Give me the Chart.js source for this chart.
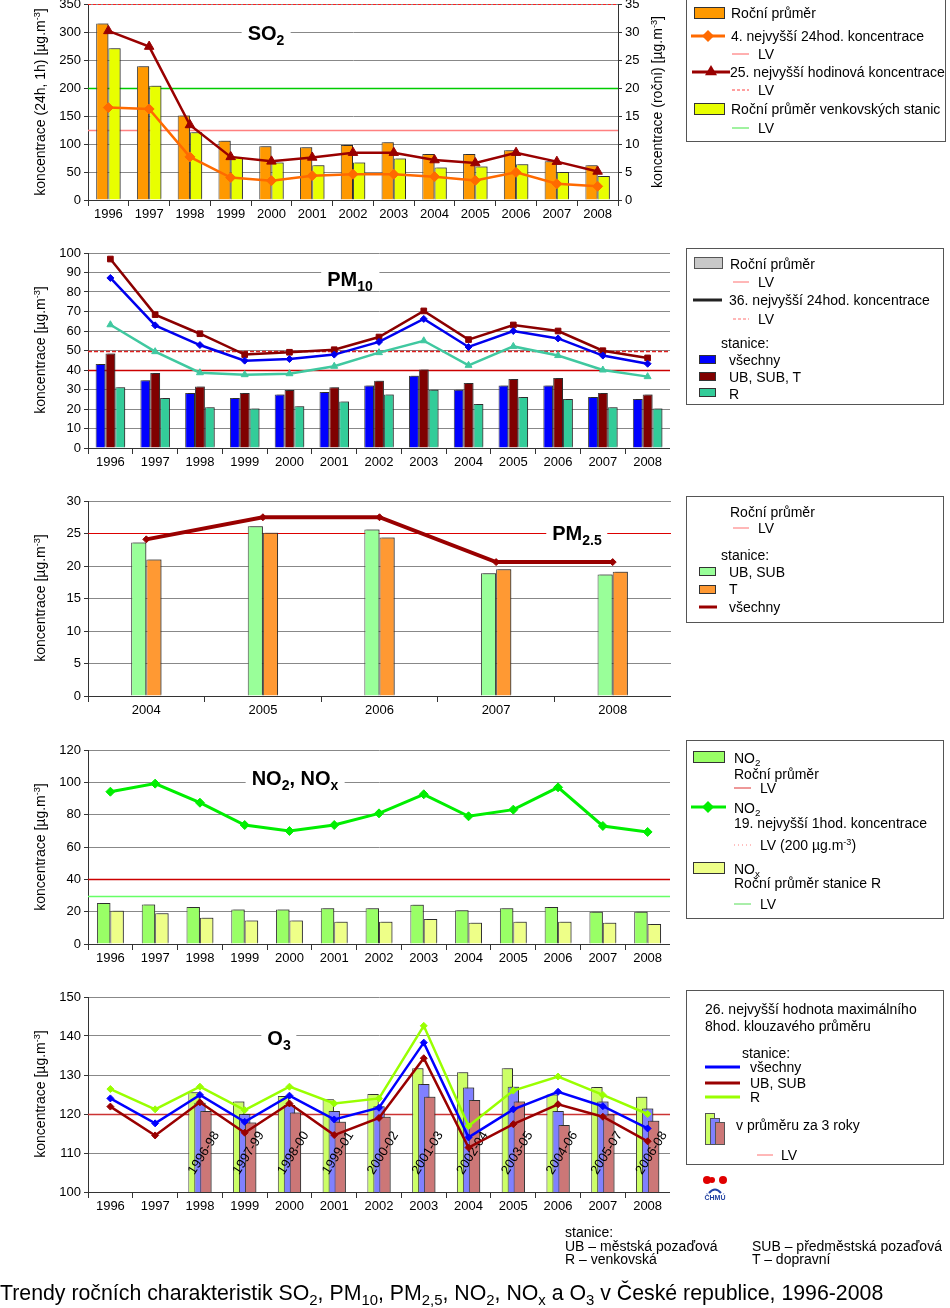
<!DOCTYPE html>
<html>
<head>
<meta charset="utf-8">
<title>Trendy ročních charakteristik</title>
<script src="https://cdn.jsdelivr.net/npm/chart.js@4.4.1/dist/chart.umd.min.js"></script>
<style>
  body { margin: 0; width: 950px; height: 1308px; position: relative; overflow: hidden; background: #fff;
         font-family: "Liberation Sans", Arial, sans-serif; color: #000; }
  canvas { position: absolute; left: 0; }
  .box { position: absolute; border: 1px solid #555; box-sizing: border-box; }
  .t { position: absolute; font-size: 14px; line-height: 16px; white-space: nowrap; transform: translateY(-50%); }
  .ttl { position: absolute; font-size: 20px; font-weight: bold; line-height: 24px; background: #fff; padding: 0 6px;
         white-space: nowrap; transform: translate(-50%, -50%); }
  .rot { position: absolute; font-size: 14px; line-height: 16px; white-space: nowrap; transform: translate(-50%, -50%) rotate(-90deg); }
  sub { font-size: 70%; vertical-align: -0.35em; line-height: 0; }
  sup { font-size: 65%; vertical-align: 0.5em; line-height: 0; }
  #gfx { position: absolute; left: 0; top: 0; }
</style>
</head>
<body>
<canvas id="so2" width="680" height="234" style="top:-10px"></canvas>
<canvas id="pm10" width="670" height="233" style="top:239px"></canvas>
<canvas id="pm25" width="671" height="233" style="top:487px"></canvas>
<canvas id="no2" width="670" height="232" style="top:736px"></canvas>
<canvas id="o3" width="670" height="233" style="top:983px"></canvas>
<svg id="gfx" width="950" height="1308"></svg>
<script>
// ---- data -------------------------------------------------------------
const years = ['1996', '1997', '1998', '1999', '2000', '2001', '2002', '2003', '2004', '2005', '2006', '2007', '2008'];
const pm25Years = ['2004', '2005', '2006', '2007', '2008'];
const o3Periods = ['', '', '1996-98', '1997-99', '1998-00', '1999-01', '2000-02', '2001-03', '2002-04', '2003-05', '2004-06', '2005-07', '2006-08'];

// SO2 (bars on right axis, lines on left axis)
const so2Annual = [31.5, 23.9, 15.1, 10.6, 9.6, 9.4, 9.8, 10.3, 8.2, 8.2, 8.9, 6.9, 6.2];
const so2RuralAnnual = [27.1, 20.4, 12.1, 7.7, 6.7, 6.2, 6.7, 7.4, 5.8, 6.0, 6.4, 5.0, 4.3];
const so2Daily4th = [165, 162.5, 77, 40, 34.5, 43.5, 46, 46, 41.7, 35, 49.4, 29, 24.4];
const so2Hourly25th = [302, 274, 134, 77, 69, 76, 84.5, 84.5, 71.4, 66, 84.5, 68.5, 51];
const so2LvHourly = 350, so2LvDaily = 125, so2LvRural = 20;

// PM10
const pm10AllAnnual = [43.1, 34.7, 28.2, 25.6, 27.5, 28.7, 32.1, 37.1, 29.9, 32.1, 32.1, 26.2, 25.1];
const pm10UrbanAnnual = [48.5, 38.5, 31.6, 28.2, 29.7, 31.1, 34.5, 40.3, 33.3, 35.4, 35.9, 28.2, 27.4];
const pm10RuralAnnual = [31.1, 25.6, 20.9, 20.2, 21.4, 23.9, 27.5, 29.9, 22.6, 26.2, 25.1, 20.9, 20.2];
const pm10All36th = [87.2, 62.9, 52.8, 44.8, 45.6, 47.9, 54.4, 66.2, 51.8, 60.0, 56.2, 47.4, 43.2];
const pm10Urban36th = [96.9, 68.4, 58.6, 47.9, 49.1, 50.4, 56.9, 70.3, 55.6, 63.1, 60.0, 49.9, 46.2];
const pm10Rural36th = [63.2, 49.4, 38.6, 37.6, 38.1, 41.9, 48.9, 55.0, 42.4, 52.1, 47.4, 40.0, 36.6];
const pm10LvDaily = 50, pm10LvAnnual = 40;

// PM2.5
const pm25UrbanAnnual = [23.6, 26.1, 25.6, 18.9, 18.7];
const pm25TrafficAnnual = [21.0, 25.1, 24.4, 19.5, 19.1];
const pm25AllAnnual = [24.1, 27.5, 27.5, 20.6, 20.6];
const pm25Lv = 25;

// NO2, NOx
const no2Annual = [25.4, 24.5, 22.9, 21.4, 21.4, 22.1, 22.1, 24.3, 20.8, 22.1, 22.9, 20.0, 20.0];
const noxRuralAnnual = [20.6, 19.0, 16.3, 14.6, 14.6, 13.8, 13.8, 15.5, 13.2, 13.8, 13.8, 13.2, 12.4];
const no2Hourly19th = [94.2, 99.2, 87.4, 73.6, 69.9, 73.6, 80.8, 92.6, 79.0, 83.1, 96.9, 73.0, 69.3];
const no2LvAnnual = 40, noxLvRural = 30;

// O3
const o3RuralMax = [126.4, 121.2, 127.0, 121.0, 127.0, 122.7, 124.0, 142.6, 116.9, 126.0, 129.6, 124.9, 120.0];
const o3AllMax = [124.0, 117.6, 124.9, 118.0, 124.7, 118.6, 121.6, 138.3, 114.0, 121.2, 125.7, 122.0, 116.3];
const o3UrbanMax = [121.9, 114.5, 123.0, 115.2, 122.7, 114.6, 119.0, 134.3, 111.4, 117.4, 122.5, 119.3, 113.0];
const o3Rural3y = [null, null, 125.6, 123.2, 124.6, 123.8, 125.1, 131.7, 130.7, 131.7, 125.0, 126.9, 124.4];
const o3All3y = [null, null, 122.9, 120.0, 122.3, 120.8, 122.0, 127.7, 126.8, 127.0, 120.8, 123.2, 121.4];
const o3Urban3y = [null, null, 120.8, 117.8, 120.4, 118.0, 119.3, 124.4, 123.6, 123.2, 117.2, 119.9, 118.3];
const o3Lv = 120;

// ---- chart helpers ----------------------------------------------------
const FONT = { family: '"Liberation Sans", Arial, sans-serif', size: 13 };

// draws limit lines, then datasets in array order (later ones on top), then O3 period labels
const layers = {
  id: 'layers',
  beforeDatasetsDraw(chart, args, opts) {
    const { ctx, chartArea: a } = chart;
    (opts.limits || []).forEach(l => {
      const y = Math.round(chart.scales[l.axis].getPixelForValue(l.value)) + 0.5;
      ctx.save();
      ctx.strokeStyle = l.color;
      ctx.lineWidth = l.width || 1;
      ctx.setLineDash(l.dash || []);
      ctx.beginPath();
      ctx.moveTo(a.left, y);
      ctx.lineTo(a.right, y);
      ctx.stroke();
      ctx.restore();
    });
    const metas = chart.data.datasets.map((d, i) => chart.getDatasetMeta(i));
    metas.filter(m => m.type === 'bar').forEach(m => {
      ctx.save();
      ctx.beginPath();
      ctx.rect(a.left, a.top - 4, a.right - a.left + 4, a.bottom - a.top + 4);
      ctx.clip();
      ctx.shadowColor = 'rgba(0,0,0,0.35)';
      ctx.shadowOffsetX = 2;
      ctx.shadowOffsetY = -1;
      m.controller.draw();
      ctx.restore();
    });
    if (opts.barLabels) {
      const xs = chart.scales.x, ys = chart.scales.y;
      ctx.save();
      ctx.fillStyle = '#000';
      ctx.font = '13px "Liberation Sans", Arial, sans-serif';
      ctx.textAlign = 'center';
      ctx.textBaseline = 'middle';
      opts.barLabels.forEach((txt, i) => {
        if (!txt) return;
        ctx.save();
        ctx.translate(xs.getPixelForValue(i) + 4, ys.getPixelForValue(opts.labelValue));
        ctx.rotate(-58 * Math.PI / 180);
        ctx.fillText(txt, 0, 0);
        ctx.restore();
      });
      ctx.restore();
    }
    metas.filter(m => m.type === 'line').forEach(m => m.controller.draw());
    return false;
  }
};

function xAxis() {
  return {
    type: 'category', offset: true,
    grid: { offset: true, drawOnChartArea: false, drawTicks: true, tickLength: 6, color: '#333' },
    border: { color: '#333' },
    ticks: { color: '#000', font: FONT, padding: 1, maxRotation: 0, autoSkip: false },
    afterFit: s => { s.height = 24; }
  };
}

function yAxis(min, max, step) {
  return {
    position: 'left', min, max,
    ticks: { stepSize: step, color: '#000', font: FONT, padding: 3 },
    grid: { color: '#888', tickColor: '#333', tickLength: 4 },
    border: { color: '#333' },
    afterFit: s => { s.width = 88; }
  };
}

function bar(data, color, catPct, barPct, axis) {
  return { type: 'bar', data, yAxisID: axis || 'y', backgroundColor: color, borderColor: '#444', borderWidth: 1,
           categoryPercentage: catPct, barPercentage: barPct };
}

function line(data, color, width, style, radius, axis) {
  return { type: 'line', data, yAxisID: axis || 'y', borderColor: color, backgroundColor: color, borderWidth: width,
           pointStyle: style, pointRadius: radius, pointBorderWidth: 1, tension: 0 };
}

function options(scales, layerOpts, right) {
  return {
    responsive: false, animation: false,
    layout: { autoPadding: false, padding: { top: 14, right: right || 0, bottom: 0, left: 0 } },
    plugins: { legend: { display: false }, tooltip: { enabled: false }, layers: layerOpts },
    scales
  };
}

// ---- SO2 ---------------------------------------------------------------
new Chart(document.getElementById('so2'), {
  data: {
    labels: years,
    datasets: [
      bar(so2Annual, '#ff9900', 0.6, 1, 'y2'),
      bar(so2RuralAnnual, '#e8ff00', 0.6, 1, 'y2'),
      line(so2Daily4th, '#ff6a00', 2.5, 'rectRot', 5),
      line(so2Hourly25th, '#990000', 2.5, 'triangle', 5.5)
    ]
  },
  options: options({
    x: xAxis(),
    y: yAxis(0, 350, 50),
    y2: {
      position: 'right', min: 0, max: 35,
      ticks: { stepSize: 5, color: '#000', font: FONT, padding: 3 },
      grid: { drawOnChartArea: false, color: '#333', tickLength: 4 },
      border: { color: '#333' },
      afterFit: s => { s.width = 62; }
    }
  }, {
    limits: [
      { axis: 'y', value: so2LvHourly, color: '#ff2020', dash: [3, 2] },
      { axis: 'y', value: so2LvDaily, color: '#ff8080', width: 1.5 },
      { axis: 'y2', value: so2LvRural, color: '#00cc00', width: 1.5 }
    ]
  }),
  plugins: [layers]
});

// ---- PM10 --------------------------------------------------------------
new Chart(document.getElementById('pm10'), {
  data: {
    labels: years,
    datasets: [
      bar(pm10AllAnnual, '#0000ff', 0.66, 1),
      bar(pm10UrbanAnnual, '#800000', 0.66, 1),
      bar(pm10RuralAnnual, '#33cc99', 0.66, 1),
      line(pm10Rural36th, '#40c8a0', 2.5, 'triangle', 4),
      line(pm10Urban36th, '#8b0000', 2.5, 'rect', 4),
      line(pm10All36th, '#0000ee', 2.5, 'rectRot', 3.5)
    ]
  },
  options: options({ x: xAxis(), y: yAxis(0, 100, 10) }, {
    limits: [
      { axis: 'y', value: pm10LvDaily, color: '#dd2020', dash: [4, 2], width: 1.5 },
      { axis: 'y', value: pm10LvAnnual, color: '#cc0000', width: 1.5 }
    ]
  }),
  plugins: [layers]
});

// ---- PM2.5 -------------------------------------------------------------
new Chart(document.getElementById('pm25'), {
  data: {
    labels: pm25Years,
    datasets: [
      bar(pm25UrbanAnnual, '#99ff99', 0.26, 1),
      bar(pm25TrafficAnnual, '#ff9933', 0.26, 1),
      line(pm25AllAnnual, '#990000', 4, 'rectRot', 3.5)
    ]
  },
  options: options({ x: xAxis(), y: yAxis(0, 30, 5) }, {
    limits: [{ axis: 'y', value: pm25Lv, color: '#dd0000', width: 1 }]
  }),
  plugins: [layers]
});

// ---- NO2, NOx ----------------------------------------------------------
new Chart(document.getElementById('no2'), {
  data: {
    labels: years,
    datasets: [
      bar(no2Annual, '#99ff66', 0.6, 1),
      bar(noxRuralAnnual, '#eeff88', 0.6, 1),
      line(no2Hourly19th, '#00ee00', 3, 'rectRot', 4.5)
    ]
  },
  options: options({ x: xAxis(), y: yAxis(0, 120, 20) }, {
    limits: [
      { axis: 'y', value: no2LvAnnual, color: '#cc0000', width: 1.5 },
      { axis: 'y', value: noxLvRural, color: '#66ff66', width: 1.5 }
    ]
  }),
  plugins: [layers]
});

// ---- O3 ----------------------------------------------------------------
new Chart(document.getElementById('o3'), {
  data: {
    labels: years,
    datasets: [
      bar(o3Rural3y, '#ccff66', 0.4, 1.9),
      bar(o3All3y, '#8080ff', 0.4, 1.9),
      bar(o3Urban3y, '#cc7777', 0.4, 1.9),
      line(o3RuralMax, '#99ff00', 2.5, 'rectRot', 3.5),
      line(o3AllMax, '#0000ff', 2.5, 'rectRot', 3.5),
      line(o3UrbanMax, '#990000', 2.5, 'rectRot', 3.5)
    ]
  },
  options: options({ x: xAxis(), y: yAxis(100, 150, 10) }, {
    limits: [{ axis: 'y', value: o3Lv, color: '#cc3333', width: 1.5 }],
    barLabels: o3Periods,
    labelValue: 110
  }),
  plugins: [layers]
});

// ---- texts, legends ----------------------------------------------------
function put(cls, x, y, html, style) {
  const d = document.createElement('div');
  d.className = cls;
  d.style.left = x + 'px';
  d.style.top = y + 'px';
  if (style) d.style.cssText += style;
  d.innerHTML = html;
  document.body.appendChild(d);
}
const t = (x, y, html, style) => put('t', x, y, html, style);
function legendBox(x, y, w, h) {
  const d = document.createElement('div');
  d.className = 'box';
  Object.assign(d.style, { left: x + 'px', top: y + 'px', width: w + 'px', height: h + 'px' });
  document.body.appendChild(d);
}

const svg = [];
const rect = (x, y, w, h, fill, stroke) =>
  svg.push(`<rect x="${x + 0.5}" y="${y + 0.5}" width="${w}" height="${h}" fill="${fill}" stroke="${stroke || '#333'}"/>`);
const seg = (x1, x2, y, color, w, dash) =>
  svg.push(`<line x1="${x1}" y1="${y}" x2="${x2}" y2="${y}" stroke="${color}" stroke-width="${w || 1}"${dash ? ` stroke-dasharray="${dash}"` : ''}/>`);
const diamond = (cx, cy, r, color) =>
  svg.push(`<polygon points="${cx},${cy - r} ${cx + r},${cy} ${cx},${cy + r} ${cx - r},${cy}" fill="${color}"/>`);
const tri = (cx, cy, r, color) =>
  svg.push(`<polygon points="${cx},${cy - r} ${cx + r},${cy + r * 0.7} ${cx - r},${cy + r * 0.7}" fill="${color}"/>`);
const dot = (cx, cy, r, color) => svg.push(`<circle cx="${cx}" cy="${cy}" r="${r}" fill="${color}"/>`);

// panel titles
put('ttl', 266, 32.5, 'SO<sub>2</sub>');
put('ttl', 350, 279, 'PM<sub>10</sub>');
put('ttl', 577, 533, 'PM<sub>2.5</sub>');
put('ttl', 295, 778, 'NO<sub>2</sub>, NO<sub>x</sub>');
put('ttl', 279, 1038, 'O<sub>3</sub>');

// axis titles
const unit = '[µg.m<sup>-3</sup>]';
put('rot', 40, 102, 'koncentrace (24h, 1h) ' + unit);
put('rot', 657, 102, 'koncentrace (roční) ' + unit);
put('rot', 40, 350, 'koncentrace ' + unit);
put('rot', 40, 598, 'koncentrace ' + unit);
put('rot', 40, 847, 'koncentrace ' + unit);
put('rot', 40, 1094, 'koncentrace ' + unit);

// legend SO2
legendBox(686, -1, 260, 143);
rect(694, 7, 30, 11, '#ff9900');
seg(691, 725, 36, '#ff6a00', 3); diamond(708, 36, 6, '#ff6a00');
seg(732, 749, 54, '#ff6060');
seg(692, 730, 72, '#990000', 3); tri(711, 71, 6, '#990000');
seg(732, 749, 90, '#ff4040', 1, '3,2');
rect(694, 103, 30, 11, '#e8ff00');
seg(732, 749, 128, '#80ee80', 1.5);
t(731, 13, 'Roční průměr');
t(731, 36, '4. nejvyšší 24hod. koncentrace');
t(758, 54, 'LV');
t(730, 72, '25. nejvyšší hodinová koncentrace');
t(758, 90, 'LV');
t(731, 109, 'Roční průměr venkovských stanic');
t(758, 128, 'LV');

// legend PM10
legendBox(686, 248, 258, 157);
rect(694, 257, 28, 11, '#c8c8c8', '#555');
seg(733, 749, 282, '#ff7070');
seg(693, 722, 300, '#222', 3);
seg(733, 749, 319, '#ff7070', 1, '3,2');
rect(699, 355, 16, 8, '#0000ff');
rect(699, 372, 16, 8, '#800000');
rect(699, 388, 16, 8, '#33cc99');
t(730, 264, 'Roční průměr');
t(758, 282, 'LV');
t(729, 300, '36. nejvyšší 24hod. koncentrace');
t(758, 319, 'LV');
t(721, 343, 'stanice:');
t(729, 360, 'všechny');
t(729, 377, 'UB, SUB, T');
t(729, 394, 'R');

// legend PM2.5
legendBox(686, 496, 258, 127);
seg(733, 749, 528, '#ff7070');
rect(699, 567, 16, 8, '#99ff99');
rect(699, 585, 16, 8, '#ff9933');
seg(699, 717, 607, '#990000', 3);
t(730, 512, 'Roční průměr');
t(758, 528, 'LV');
t(721, 555, 'stanice:');
t(729, 572, 'UB, SUB');
t(729, 589, 'T');
t(729, 607, 'všechny');

// legend NO2, NOx
legendBox(686, 740, 258, 179);
rect(693, 751, 31, 11, '#99ff66');
seg(734, 751, 788, '#dd3333');
seg(691, 726, 807, '#00ee00', 3); diamond(708, 807, 6, '#00ee00');
seg(734, 751, 845, '#ff8080', 1, '1,3');
rect(693, 862, 31, 11, '#eeff88');
seg(734, 751, 904, '#55dd55');
t(734, 758, 'NO<sub>2</sub>');
t(734, 774, 'Roční průměr');
t(760, 788, 'LV');
t(734, 808, 'NO<sub>2</sub>');
t(734, 823, '19. nejvyšší 1hod. koncentrace');
t(760, 845, 'LV (200 µg.m<sup>-3</sup>)');
t(734, 869, 'NO<sub>x</sub>');
t(734, 883, 'Roční průměr stanice R');
t(760, 904, 'LV');

// legend O3
legendBox(686, 990, 258, 175);
seg(705, 740, 1067, '#0000ff', 3);
seg(705, 740, 1083, '#990000', 3);
seg(705, 740, 1097, '#99ff00', 3);
rect(705, 1113, 9, 31, '#ccff66', '#555');
rect(710, 1118, 9, 26, '#8080ff', '#555');
rect(715, 1122, 9, 22, '#cc7777', '#555');
seg(757, 773, 1155, '#ff7070');
t(705, 1009, '26. nejvyšší hodnota maximálního');
t(705, 1026, '8hod. klouzavého průměru');
t(742, 1053, 'stanice:');
t(750, 1067, 'všechny');
t(750, 1083, 'UB, SUB');
t(750, 1097, 'R');
t(736, 1125, 'v průměru za 3 roky');
t(781, 1155, 'LV');

// CHMU logo
dot(707, 1180, 4, '#e00000');
dot(712, 1180, 3, '#e00000');
dot(723, 1180, 4, '#e00000');
svg.push('<path d="M709,1193 q6,-7 12,0" stroke="#2244aa" stroke-width="2" fill="none"/>');
t(715, 1198, 'ČHMÚ', 'font-size:7px;line-height:8px;font-weight:bold;color:#1f3f9f;transform:translate(-50%,-50%)');

// station notes and footer
t(565, 1232, 'stanice:');
t(565, 1246, 'UB – městská pozaďová');
t(565, 1259, 'R – venkovská');
t(752, 1246, 'SUB – předměstská pozaďová');
t(752, 1259, 'T – dopravní');
t(0, 1293, 'Trendy ročních charakteristik SO<sub>2</sub>, PM<sub>10</sub>, PM<sub>2,5</sub>, NO<sub>2</sub>, NO<sub>x</sub> a O<sub>3</sub> v České republice, 1996-2008',
  'font-size:21.3px;line-height:26px');

document.getElementById('gfx').innerHTML = svg.join('');
</script>
</body>
</html>
